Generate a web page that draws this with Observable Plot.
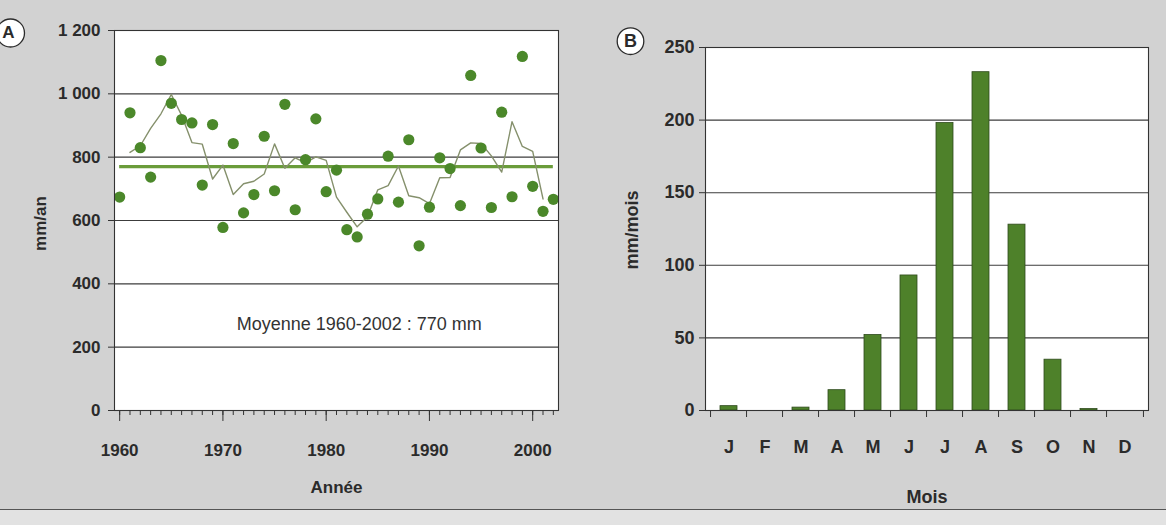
<!DOCTYPE html>
<html><head><meta charset="utf-8">
<script src="https://cdn.jsdelivr.net/npm/d3@7"></script>
<script src="https://cdn.jsdelivr.net/npm/@observablehq/plot@0.6"></script>
<style>
html,body{margin:0;padding:0;}
body{width:1166px;height:525px;background:#d2d2d2;position:relative;overflow:hidden;font-family:"Liberation Sans",Arial,sans-serif;}
#a{position:absolute;left:0;top:0;}
#b{position:absolute;left:590px;top:0;}
#bottomstrip{position:absolute;left:0;top:509px;width:1166px;height:16px;background:#e2e2e2;border-top:1.5px solid #555;}
</style></head><body>
<div id="bottomstrip"></div>
<div id="a"></div><div id="b"></div>
<script>
// ---- Panel A data: annual rainfall (mm/an) ----
const years = [1960,1961,1962,1963,1964,1965,1966,1967,1968,1969,1970,1971,1972,1973,1974,1975,1976,1977,1978,1979,1980,1981,1982,1983,1984,1985,1986,1987,1988,1989,1990,1991,1992,1993,1994,1995,1996,1997,1998,1999,2000,2001,2002];
const annualRain = [674,940,830,737,1105,970,919,908,712,903,578,843,624,682,866,694,967,634,792,921,691,759,571,548,620,668,803,658,855,520,642,798,764,647,1058,829,641,942,675,1118,708,629,667];
// thin curve (running mean as drawn)
const curveYears = [1961,1962,1963,1964,1965,1966,1967,1968,1969,1970,1971,1972,1973,1974,1975,1976,1977,1978,1979,1980,1981,1982,1983,1984,1985,1986,1987,1988,1989,1990,1991,1992,1993,1994,1995,1996,1997,1998,1999,2000,2001];
const curveValues = [815,836,891,937,998,932,846,841,731,775,682,716,724,747,842,765,798,782,801,790,674,626,580,612,697,710,772,678,672,653,735,736,823,845,843,804,753,912,834,818,668];
const meanValue = 770;
const meanLabel = "Moyenne 1960-2002 : 770 mm";
const yTicksA = [0,200,400,600,800,1000,1200];
const decadeTicks = [1960,1970,1980,1990,2000];

// ---- Panel B data: monthly rainfall (mm/mois) ----
const months = [1,2,3,4,5,6,7,8,9,10,11,12];
const monthLabels = ["J","F","M","A","M","J","J","A","S","O","N","D"];
const monthlyRain = [3,0,2,14,52,93,198,233,128,35,1,0];
const yTicksB = [0,50,100,150,200,250];

const ink = "#2b2b2b";
const font = "'Liberation Sans', Arial, Helvetica, sans-serif";
const svgStyle = size => `background:transparent;font-family:${font};font-size:${size}px;font-weight:bold;color:${ink};overflow:visible;`;
const frFmt = d => d3.format(",")(d).replace(/,/g, "\u00a0");

const dataA = years.map((y, i) => ({year: y, v: annualRain[i]}));
const curveA = curveYears.map((y, i) => ({year: y, v: curveValues[i]}));

const chartA = Plot.plot({
  width: 590, height: 510,
  marginLeft: 114, marginRight: 32, marginTop: 30, marginBottom: 100,
  style: svgStyle(17),
  x: {domain: [1959.5, 2002.5]},
  y: {domain: [0, 1200]},
  marks: [
    Plot.frame({fill: "white", stroke: "none"}),
    Plot.ruleY(yTicksA.slice(1, -1), {stroke: "#3c3c3c", strokeWidth: 1.1}),
    Plot.ruleY([meanValue], {x1: years[0], x2: years[years.length - 1], stroke: "#6a9c3a", strokeWidth: 3.2}),
    Plot.line(curveA, {x: "year", y: "v", stroke: "#85906c", strokeWidth: 1.4}),
    Plot.dot(dataA, {x: "year", y: "v", r: 5.6, fill: "#4b882a"}),
    Plot.text([meanLabel], {x: 1983.2, y: 271, fontWeight: "normal", fontSize: 18, fill: "#333"}),
    Plot.frame({stroke: "#333", strokeWidth: 1.1}),
    Plot.axisY(yTicksA, {tickSize: 6, tickPadding: 8, tickFormat: frFmt, label: null, stroke: "#333"}),
    Plot.axisX(years, {tickSize: 5, tickFormat: () => "", label: null, stroke: "#333"}),
    Plot.axisX(decadeTicks, {tickSize: 11, tickPadding: 22, tickFormat: d => String(d), label: null, stroke: "#333"}),
    Plot.text(["Année"], {frameAnchor: "bottom", dy: 77, textAnchor: "middle", lineAnchor: "middle", fill: ink}),
    Plot.text(["mm/an"], {frameAnchor: "left", dx: -74, dy: 3, rotate: -90, textAnchor: "middle", lineAnchor: "middle", fill: ink}),
    Plot.dot([0], {frameAnchor: "top-left", dx: -104, dy: 2.5, r: 14, fill: "white", stroke: ink, strokeWidth: 1.3}),
    Plot.text(["A"], {frameAnchor: "top-left", dx: -106, dy: 2.5, textAnchor: "middle", lineAnchor: "middle", fill: ink})
  ]
});
document.getElementById("a").appendChild(chartA);

const dataB = months.map((m, i) => ({m, v: monthlyRain[i]}));
const stepB = (576 - 115 - 18) / months.length;

const chartB = Plot.plot({
  width: 576, height: 510,
  marginLeft: 115, marginRight: 18, marginTop: 47, marginBottom: 100,
  style: svgStyle(18),
  x: {type: "band", domain: months, paddingInner: 0.54, paddingOuter: 0.27},
  y: {domain: [0, 250]},
  marks: [
    Plot.frame({fill: "white", stroke: "none"}),
    Plot.ruleY(yTicksB.slice(1, -1), {stroke: "#3c3c3c", strokeWidth: 1.1}),
    Plot.barY(dataB, {x: "m", y: "v", fill: "#4e812a", stroke: "#2f4a1d", strokeWidth: 0.8}),
    Plot.frame({stroke: "#333", strokeWidth: 1.1}),
    Plot.axisY(yTicksB, {tickSize: 6, tickPadding: 5, label: null, stroke: "#333"}),
    Plot.axisX(months, {tickSize: 0, tickPadding: 30, tickFormat: d => monthLabels[d - 1], label: null}),
    Plot.axisX(months, {tickSize: 7, tickFormat: () => "", dx: -stepB / 2, label: null, stroke: "#333"}),
    Plot.axisX([months[months.length - 1]], {tickSize: 7, tickFormat: () => "", dx: stepB / 2, label: null, stroke: "#333"}),
    Plot.text(["Mois"], {frameAnchor: "bottom", dy: 87, textAnchor: "middle", lineAnchor: "middle", fill: ink}),
    Plot.text(["mm/mois"], {frameAnchor: "left", dx: -73, dy: 1, rotate: -90, textAnchor: "middle", lineAnchor: "middle", fill: ink}),
    Plot.dot([0], {frameAnchor: "top-left", dx: -75, dy: -6.3, r: 13.3, fill: "white", stroke: ink, strokeWidth: 1.3}),
    Plot.text(["B"], {frameAnchor: "top-left", dx: -75, dy: -6.3, textAnchor: "middle", lineAnchor: "middle", fill: ink})
  ]
});
document.getElementById("b").appendChild(chartB);
</script>
</body></html>
